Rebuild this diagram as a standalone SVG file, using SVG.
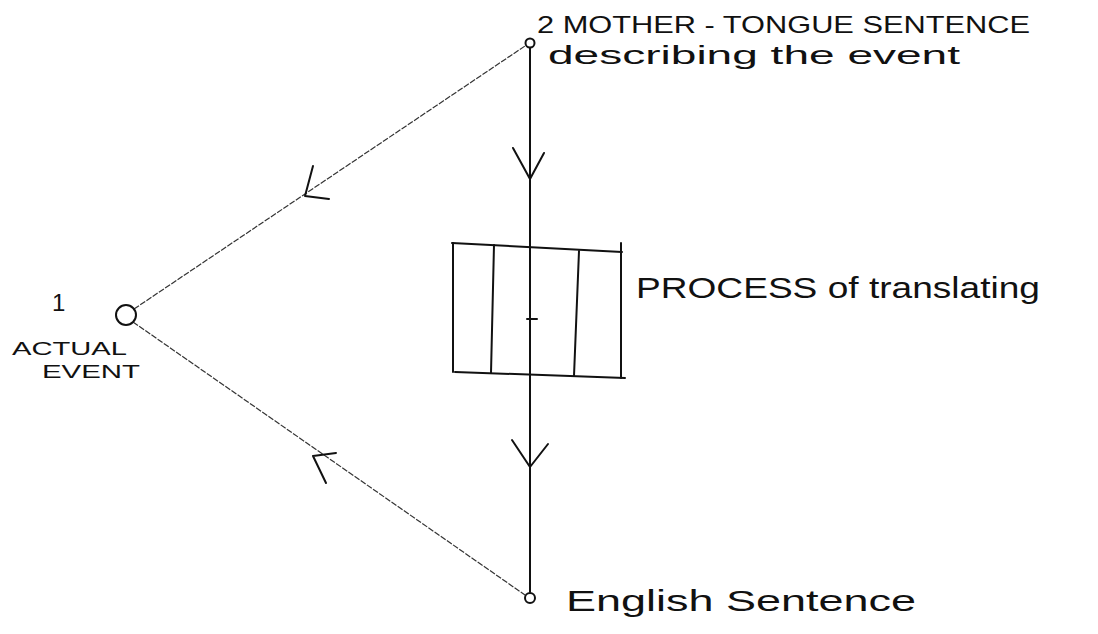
<svg xmlns="http://www.w3.org/2000/svg" width="1098" height="634" viewBox="0 0 1098 634">
<style>
.ln{stroke:#111;stroke-width:2;fill:none;stroke-linecap:round;stroke-linejoin:round}
.thin{stroke:#333;stroke-width:1.2;fill:none;stroke-dasharray:6 1.5}
.t{font-family:"Liberation Sans","DejaVu Sans",sans-serif;fill:#111}
</style>
<rect width="1098" height="634" fill="#fff"/>
<g id="connectors">
<line class="thin" x1="134" y1="309" x2="525" y2="46"/>
<line class="thin" x1="133" y1="322" x2="525" y2="595"/>
<line class="ln" x1="530" y1="48" x2="530" y2="592"/>
<polyline class="ln" points="513,148 530,179 544,153"/>
<polyline class="ln" points="512,440 530,467 548,444"/>
<polyline class="ln" points="313,166 305,196 329,199"/>
<polyline class="ln" points="326,483 313,456 336,453"/>
</g>
<g id="node-mother">
<circle class="ln" cx="530" cy="43" r="4.5"/>
<text class="t" x="537" y="33" font-size="24" textLength="493" lengthAdjust="spacingAndGlyphs">2 MOTHER - TONGUE SENTENCE</text>
<text class="t" x="548" y="64" font-size="25" textLength="412" lengthAdjust="spacingAndGlyphs">describing the event</text>
</g>
<g id="node-event">
<circle class="ln" cx="126" cy="315" r="10"/>
<text class="t" x="52" y="311" font-size="24">1</text>
<text class="t" x="12" y="355" font-size="19" textLength="115" lengthAdjust="spacingAndGlyphs">ACTUAL</text>
<text class="t" x="42" y="378" font-size="19" textLength="98" lengthAdjust="spacingAndGlyphs">EVENT</text>
</g>
<g id="node-process">
<polyline class="ln" points="452,243 622,252"/>
<line class="ln" x1="453" y1="243" x2="453" y2="372"/>
<line class="ln" x1="621" y1="243" x2="621" y2="378"/>
<polyline class="ln" points="455,372 625,378"/>
<line class="ln" x1="494" y1="245" x2="491" y2="373" stroke-width="3"/>
<line class="ln" x1="579" y1="251" x2="574" y2="376" stroke-width="3"/>
<line class="ln" x1="527" y1="319" x2="537" y2="319" stroke-width="1.5"/>
<text class="t" x="636" y="298" font-size="29" textLength="404" lengthAdjust="spacingAndGlyphs">PROCESS of translating</text>
</g>
<g id="node-english">
<circle class="ln" cx="530" cy="598" r="5"/>
<text class="t" x="566" y="611" font-size="30" textLength="350" lengthAdjust="spacingAndGlyphs">English Sentence</text>
</g>
</svg>
